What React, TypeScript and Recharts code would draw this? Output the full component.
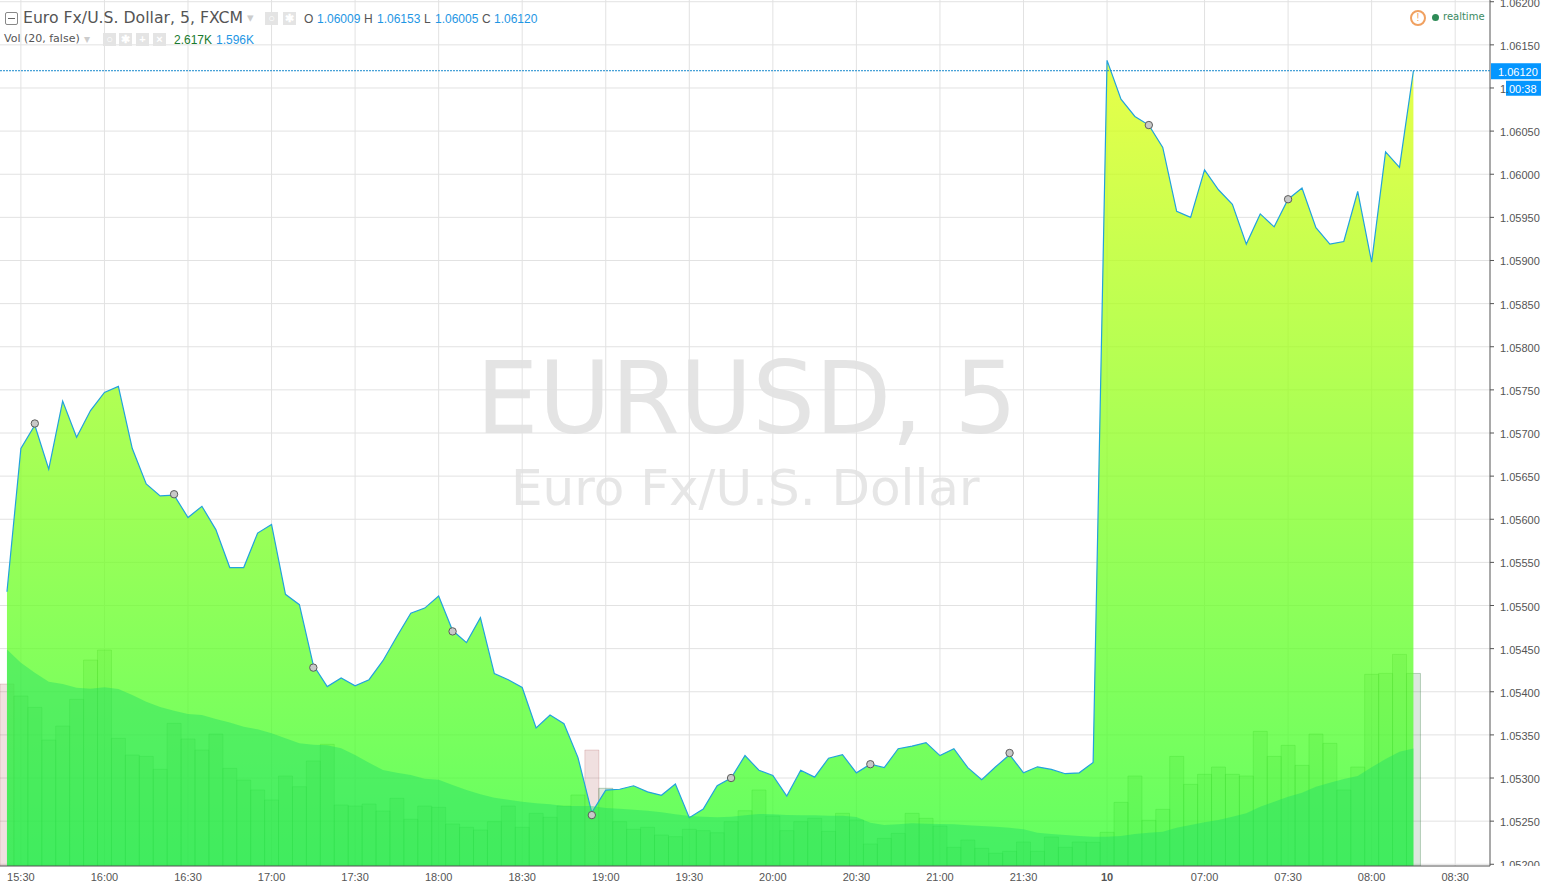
import React from 'react';
import { Area, Bar, CartesianGrid, Cell, ComposedChart, Line, ReferenceLine, XAxis, YAxis } from 'recharts';

const times = [
    '15:25', '15:30', '15:35', '15:40', '15:45', '15:50', '15:55', '16:00', '16:05', '16:10', '16:15', '16:20',
    '16:25', '16:30', '16:35', '16:40', '16:45', '16:50', '16:55', '17:00', '17:05', '17:10', '17:15', '17:20',
    '17:25', '17:30', '17:35', '17:40', '17:45', '17:50', '17:55', '18:00', '18:05', '18:10', '18:15', '18:20',
    '18:25', '18:30', '18:35', '18:40', '18:45', '18:50', '18:55', '19:00', '19:05', '19:10', '19:15', '19:20',
    '19:25', '19:30', '19:35', '19:40', '19:45', '19:50', '19:55', '20:00', '20:05', '20:10', '20:15', '20:20',
    '20:25', '20:30', '20:35', '20:40', '20:45', '20:50', '20:55', '21:00', '21:05', '21:10', '21:15', '21:20',
    '21:25', '21:30', '21:35', '21:40', '21:45', '21:50', '21:55', '10', '06:30', '06:35', '06:40', '06:45',
    '06:50', '06:55', '07:00', '07:05', '07:10', '07:15', '07:20', '07:25', '07:30', '07:35', '07:40', '07:45',
    '07:50', '07:55', '08:00', '08:05', '08:10', '08:15', '08:20', '08:25', '08:30', '08:35', '08:40',
];

const timeTicks = [
    '15:30', '16:00', '16:30', '17:00', '17:30', '18:00', '18:30', '19:00', '19:30', '20:00', '20:30', '21:00',
    '21:30', '10', '07:00', '07:30', '08:00', '08:30',
];

const priceTicks = [
    1.052, 1.0525, 1.053, 1.0535, 1.054, 1.0545, 1.055, 1.0555, 1.056, 1.0565, 1.057, 1.0575, 1.058, 1.0585,
    1.059, 1.0595, 1.06, 1.0605, 1.061, 1.0615, 1.062,
];

const closes = [
    1.05516, 1.05682, 1.05709, 1.05658, 1.05737, 1.05695, 1.05726, 1.05747, 1.05754, 1.05682, 1.05641, 1.05627,
    1.05628, 1.05602, 1.05615, 1.05588, 1.05544, 1.05544, 1.05584, 1.05594, 1.05513, 1.05501, 1.05431, 1.05406,
    1.05416, 1.05407, 1.05414, 1.05436, 1.05464, 1.05491, 1.05497, 1.05511, 1.05471, 1.05457, 1.05486, 1.05421,
    1.05414, 1.05405, 1.05358, 1.05373, 1.05363, 1.05324, 1.0526, 1.05286, 1.05287, 1.05291, 1.05284, 1.0528,
    1.05293, 1.05254, 1.05264, 1.05291, 1.053, 1.05326, 1.05309, 1.05303, 1.05279, 1.05309, 1.05301, 1.05323,
    1.05327, 1.05306, 1.05316, 1.05312, 1.05334, 1.05337, 1.05341, 1.05326, 1.05334, 1.05312, 1.05298, 1.05313,
    1.05327, 1.05306, 1.05313, 1.0531, 1.05305, 1.05306, 1.05318, 1.06132, 1.06087, 1.06067, 1.06057, 1.06031,
    1.05957, 1.0595, 1.06005, 1.05982, 1.05965, 1.05919, 1.05954, 1.05939, 1.05971, 1.05984, 1.05938, 1.05919,
    1.05922, 1.0598, 1.05898, 1.06026, 1.06008, 1.0612,
];

const volumes = [
    2.473, 2.31, 2.156, 1.712, 1.902, 2.265, 2.799, 2.935, 1.735, 1.508, 1.49, 1.314, 1.939, 1.726, 1.576, 1.793,
    1.327, 1.168, 1.033, 0.897, 1.223, 1.077, 1.427, 1.654, 0.829, 0.815, 0.842, 0.747, 0.92, 0.635, 0.815, 0.798,
    0.571, 0.526, 0.489, 0.602, 0.815, 0.526, 0.716, 0.662, 0.815, 0.965, 1.576, 1.056, 0.602, 0.499, 0.526, 0.421,
    0.398, 0.499, 0.48, 0.452, 0.602, 0.751, 1.033, 0.679, 0.48, 0.602, 0.648, 0.471, 0.716, 0.625, 0.299, 0.376,
    0.444, 0.716, 0.648, 0.543, 0.254, 0.353, 0.24, 0.173, 0.2, 0.326, 0.2, 0.394, 0.254, 0.326, 0.322, 0.458,
    0.865, 1.223, 0.621, 0.77, 1.49, 1.11, 1.246, 1.345, 1.246, 1.223, 1.83, 1.49, 1.64, 1.368, 1.793, 1.667,
    1.033, 1.345, 2.605, 2.618, 2.876, 2.617,
];

const volumeMa = [
    2.944, 2.762, 2.626, 2.504, 2.473, 2.423, 2.409, 2.428, 2.405, 2.323, 2.232, 2.16, 2.11, 2.065, 2.052, 1.997,
    1.952, 1.893, 1.857, 1.803, 1.735, 1.667, 1.648, 1.64, 1.599, 1.508, 1.404, 1.304, 1.268, 1.236, 1.186, 1.173,
    1.101, 1.033, 0.974, 0.928, 0.901, 0.874, 0.852, 0.838, 0.815, 0.815, 0.815, 0.788, 0.779, 0.765, 0.751, 0.73,
    0.702, 0.679, 0.67, 0.662, 0.67, 0.689, 0.707, 0.702, 0.693, 0.689, 0.689, 0.683, 0.683, 0.666, 0.588, 0.557,
    0.567, 0.58, 0.575, 0.571, 0.567, 0.553, 0.543, 0.534, 0.52, 0.499, 0.452, 0.435, 0.421, 0.408, 0.398, 0.398,
    0.408, 0.435, 0.452, 0.466, 0.52, 0.557, 0.594, 0.625, 0.67, 0.716, 0.806, 0.874, 0.942, 0.996, 1.077, 1.132,
    1.182, 1.223, 1.341, 1.454, 1.553, 1.596,
];

const downBars = ['15:25', '18:55'];
const markerTimes = ['15:35', '16:25', '17:15', '18:05', '18:55', '19:45', '20:35', '21:25', '06:40', '07:30'];
const markerPrices = [1.05711, 1.05629, 1.05428, 1.0547, 1.05257, 1.053, 1.05316, 1.05329, 1.06057, 1.05971];

const chartData = times.map((time, i) => {
    const markerIndex = markerTimes.indexOf(time);
    return {
        time,
        close: closes[i] ?? null,
        volume: volumes[i] ?? null,
        volumeMa: volumeMa[i] ?? null,
        marker: markerIndex >= 0 ? markerPrices[markerIndex] : null,
    };
});

const LAST_PRICE = 1.0612;
const HIDDEN_BY_COUNTDOWN = 1.061;
const BLUE = '#0496ff';
const VALUE_BLUE = '#1e96e4';
const AXIS_COLOR = '#555';
const AXIS_FONT = '"Liberation Sans", Arial, sans-serif';
const LEGEND_FONT = '"DejaVu Sans", Verdana, sans-serif';

const TimeTick = ({ x, y, payload }: any) => (
    <text
        x={x}
        y={y + 7}
        textAnchor="middle"
        fontSize={11}
        fontFamily={AXIS_FONT}
        fill={AXIS_COLOR}
        fontWeight={payload.value === '10' ? 'bold' : 'normal'}
    >
        {payload.value}
    </text>
);

// nested svg so the lowest label gets cut by the time axis and the 1.06100 one by the countdown box
const PriceTick = ({ x, y, payload }: any) => (
    <svg x={x} y={0} width={payload.value === HIDDEN_BY_COUNTDOWN ? 12 : 52} height={866} style={{ overflow: 'hidden' }}>
        <text x={4} y={y + 5} fontSize={11} fontFamily={AXIS_FONT} fill={AXIS_COLOR}>
            {payload.value.toFixed(5)}
        </text>
    </svg>
);

const PriceTag = ({ viewBox }: any) => {
    const y = viewBox.y;
    return (
        <g fontFamily={AXIS_FONT} fontSize={11} fill="#fff">
            <rect x={1491} y={y - 7.5} width={50} height={16} fill={BLUE} />
            <text x={1498} y={y + 5}>{LAST_PRICE.toFixed(5)}</text>
            <rect x={1506} y={y + 10} width={35} height={15} fill={BLUE} />
            <text x={1509} y={y + 22}>00:38</text>
        </g>
    );
};

const Marker = ({ cx, cy, payload }: any) =>
    payload.marker == null ? null : (
        <circle key={payload.time} cx={cx} cy={cy} r={3.7} fill="#c8c8c8" stroke="#5c5c5c" strokeWidth={1} />
    );

const LegendIcon = ({ left, top, glyph }: { left: number; top: number; glyph: string }) => (
    <div
        style={{
            position: 'absolute', left, top, width: 13, height: 13, background: '#e4e4e4', color: '#fff',
            fontSize: 11, lineHeight: '13px', textAlign: 'center', fontFamily: AXIS_FONT, fontWeight: 'bold',
        }}
    >
        {glyph}
    </div>
);

const Label = ({ left, top, size, color, bold, font, children }: any) => (
    <div
        style={{
            position: 'absolute', left, top, fontSize: size, color, whiteSpace: 'nowrap',
            fontFamily: font ?? LEGEND_FONT, fontWeight: bold ? 'bold' : 'normal', lineHeight: 1,
        }}
    >
        {children}
    </div>
);

const Header = () => (
    <>
        <div style={{ position: 'absolute', left: 5, top: 12, width: 11, height: 11, border: '1px solid #888', borderRadius: 2 }}>
            <div style={{ position: 'absolute', left: 2, top: 5, width: 7, height: 1, background: '#666' }} />
        </div>
        <Label left={23} top={10} size={15.7} color="#555">Euro Fx/U.S. Dollar, 5, FXCM</Label>
        <Label left={247} top={11} size={13} color="#ccc">▾</Label>
        <LegendIcon left={265} top={12} glyph="○" />
        <LegendIcon left={283} top={12} glyph="✱" />
        <Label left={304} top={13} size={12} font={AXIS_FONT} color="#555">O</Label>
        <Label left={317} top={13} size={12} font={AXIS_FONT} color={VALUE_BLUE}>1.06009</Label>
        <Label left={364} top={13} size={12} font={AXIS_FONT} color="#555">H</Label>
        <Label left={377} top={13} size={12} font={AXIS_FONT} color={VALUE_BLUE}>1.06153</Label>
        <Label left={424} top={13} size={12} font={AXIS_FONT} color="#555">L</Label>
        <Label left={435} top={13} size={12} font={AXIS_FONT} color={VALUE_BLUE}>1.06005</Label>
        <Label left={482} top={13} size={12} font={AXIS_FONT} color="#555">C</Label>
        <Label left={494} top={13} size={12} font={AXIS_FONT} color={VALUE_BLUE}>1.06120</Label>

        <Label left={4} top={33} size={11} color="#555">Vol (20, false)</Label>
        <Label left={84} top={33} size={12} color="#ccc">▾</Label>
        <LegendIcon left={103} top={33} glyph="○" />
        <LegendIcon left={119} top={33} glyph="✱" />
        <LegendIcon left={136} top={33} glyph="+" />
        <LegendIcon left={153} top={33} glyph="×" />
        <Label left={174} top={34} size={12} font={AXIS_FONT} color="#1a7a2e">2.617K</Label>
        <Label left={216} top={34} size={12} font={AXIS_FONT} color={VALUE_BLUE}>1.596K</Label>

        <div
            style={{
                position: 'absolute', left: 1410, top: 10, width: 12, height: 12, border: '2px solid #f0a060',
                borderRadius: '50%', color: '#f0a060', fontSize: 10, lineHeight: '12px', textAlign: 'center',
                fontFamily: AXIS_FONT,
            }}
        >
            !
        </div>
        <div style={{ position: 'absolute', left: 1432, top: 14, width: 7, height: 7, borderRadius: '50%', background: '#2e8b57' }} />
        <Label left={1443} top={12} size={10} color="#3a8a62">realtime</Label>
    </>
);

const Watermark = () => (
    <>
        <Label left={476} top={349} size={99} color="#e4e4e4" font='"DejaVu Sans", sans-serif'>EURUSD, 5</Label>
        <Label left={511} top={463} size={50} color="#e6e6e6">Euro Fx/U.S. Dollar</Label>
    </>
);

export default function App() {
    return (
        <div style={{ position: 'absolute', left: 0, top: 0, width: 1541, height: 885, overflow: 'hidden', background: '#fff' }}>
            <Watermark />
            <ComposedChart
                width={1541}
                height={885}
                data={chartData}
                margin={{ top: 0, right: 0, bottom: 0, left: 0 }}
                barCategoryGap={0}
                style={{ position: 'absolute', left: 0, top: 0 }}
            >
                <defs>
                    <linearGradient id="priceFill" x1="0" y1="0" x2="0" y2="1">
                        <stop offset="0%" stopColor="#e0ff10" stopOpacity={0.76} />
                        <stop offset="100%" stopColor="#30ff30" stopOpacity={0.76} />
                    </linearGradient>
                </defs>
                <CartesianGrid stroke="#e2e2e2" syncWithTicks yAxisId="price" />
                <XAxis
                    dataKey="time"
                    ticks={timeTicks}
                    interval={0}
                    tick={<TimeTick />}
                    tickLine={false}
                    axisLine={{ stroke: AXIS_COLOR }}
                    height={19}
                />
                <YAxis
                    yAxisId="price"
                    orientation="right"
                    domain={[1.05198, 1.06202]}
                    ticks={priceTicks}
                    interval={0}
                    tick={<PriceTick />}
                    tickSize={4}
                    tickLine={{ stroke: AXIS_COLOR }}
                    axisLine={{ stroke: AXIS_COLOR }}
                    width={51}
                    allowDataOverflow
                />
                <YAxis yAxisId="volume" hide domain={[0, 11.77]} allowDataOverflow />
                <Bar yAxisId="volume" dataKey="volume" zIndex={50} isAnimationActive={false}>
                    {chartData.map((d) => (
                        <Cell
                            key={d.time}
                            fill={downBars.includes(d.time) ? 'rgba(160,60,60,0.16)' : 'rgba(40,110,50,0.16)'}
                            stroke={downBars.includes(d.time) ? 'rgba(160,60,60,0.2)' : 'rgba(40,110,50,0.3)'}
                        />
                    ))}
                </Bar>
                <Area
                    yAxisId="price"
                    dataKey="close"
                    type="linear"
                    stroke="#22a2dc"
                    strokeWidth={1.2}
                    fill="url(#priceFill)"
                    fillOpacity={1}
                    dot={false}
                    activeDot={false}
                    isAnimationActive={false}
                />
                <Area
                    yAxisId="volume"
                    dataKey="volumeMa"
                    type="linear"
                    stroke="none"
                    fill="#1cd966"
                    fillOpacity={0.4}
                    dot={false}
                    activeDot={false}
                    isAnimationActive={false}
                />
                <Line
                    yAxisId="price"
                    dataKey="marker"
                    stroke="none"
                    dot={<Marker />}
                    activeDot={false}
                    isAnimationActive={false}
                />
                <ReferenceLine
                    yAxisId="price"
                    y={LAST_PRICE}
                    stroke="#1688cc"
                    strokeDasharray="2 1"
                    zIndex={700}
                    label={<PriceTag />}
                />
            </ComposedChart>
            <Header />
        </div>
    );
}
